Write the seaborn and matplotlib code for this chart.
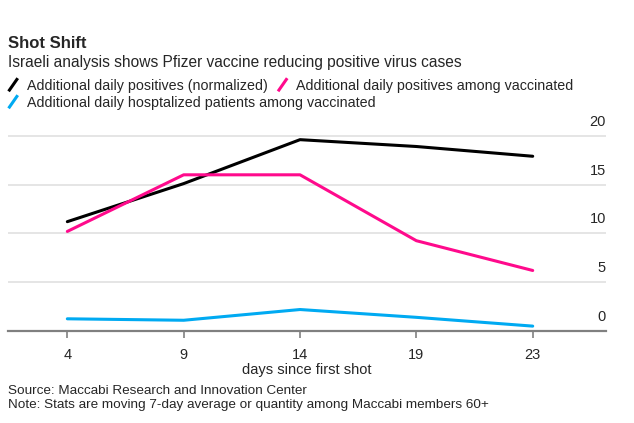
import pandas as pd
import matplotlib
matplotlib.use('Agg')
import matplotlib.pyplot as plt
import matplotlib.transforms as mtransforms
from matplotlib.lines import Line2D
from matplotlib.legend_handler import HandlerBase
import seaborn as sns

# values
days = ['4', '9', '14', '19', '23']
positives = [11.2, 15.1, 19.6, 18.9, 17.9]
vacc_positives = [10.2, 16.0, 16.0, 9.25, 6.2]
vacc_hosp = [1.25, 1.1, 2.2, 1.4, 0.5]
series_labels = ['Additional daily positives (normalized)',
                 'Additional daily positives among vaccinated',
                 'Additional daily hosptalized patients among vaccinated']
colors = ['#000000', '#ff0a8c', '#00aaf2']
yticks = [0, 5, 10, 15, 20]


class SlashHandler(HandlerBase):
    def create_artists(self, legend, orig_handle, xdescent, ydescent,
                       width, height, fontsize, trans):
        x0 = -xdescent
        y0 = -ydescent
        line = Line2D([x0 + 0.05 * width, x0 + 0.85 * width],
                      [y0 - 0.05 * height, y0 + 1.1 * height],
                      color=orig_handle.get_color(), lw=2.2,
                      solid_capstyle='butt', transform=trans)
        return [line]


sns.set_theme(style='white')
plt.rcParams['font.family'] = ['Liberation Sans', 'DejaVu Sans']

W, H = 634, 423
fig = plt.figure(figsize=(W / 100, H / 100), dpi=100)
ax = fig.add_axes([8 / W, 92 / H, 598 / W, 205 / H])

df = pd.DataFrame({
    'pos': list(range(len(days))) * 3,
    'value': positives + vacc_positives + vacc_hosp,
    'series': [s for s in series_labels for _ in days],
})
sns.lineplot(data=df, x='pos', y='value', hue='series',
             palette=dict(zip(series_labels, colors)), lw=2.2,
             ax=ax, legend=False)

ax.set_xlim(-0.51, 4.63)
ax.set_ylim(0, 21)
ax.set_xticks(range(len(days)), days, fontsize=10.5)
ax.set_yticks(yticks)
ax.set_yticklabels([])
ax.tick_params(axis='y', length=0)
ax.tick_params(axis='x', length=5, width=1.2, color='#808080', pad=7,
               bottom=True)
ax.yaxis.grid(True, color='#e0e0e0', lw=1.2)
ax.set_axisbelow(True)
for s in ['left', 'right', 'top']:
    ax.spines[s].set_visible(False)
ax.spines['bottom'].set_color('#808080')
ax.spines['bottom'].set_linewidth(1.6)
ax.set_xlabel('days since first shot', fontsize=10.5, labelpad=1)
ax.set_ylabel('')

lab_trans = mtransforms.offset_copy(ax.get_yaxis_transform(), fig=fig,
                                    x=0, y=14, units='dots')
for v in yticks:
    ax.text(1.0, v, str(v), transform=lab_trans, ha='right', va='center',
            fontsize=10.5)

fig.text(8 / W, 1 - 43 / H, 'Shot Shift', fontweight='bold', fontsize=12,
         va='center')
fig.text(8 / W, 1 - 62 / H,
         'Israeli analysis shows Pfizer vaccine reducing positive virus cases',
         fontsize=11.2, va='center')

handles = [Line2D([], [], color=c) for c in colors]
leg_kw = dict(loc='center left', frameon=False, fontsize=10.3,
              handlelength=0.8, handleheight=0.85, handletextpad=0.5,
              columnspacing=0.7, borderpad=0, borderaxespad=0,
              handler_map={Line2D: SlashHandler()})
fig.legend(handles[:2], series_labels[:2], ncol=2,
           bbox_to_anchor=(8 / W, 1 - 86 / H), **leg_kw)
fig.legend(handles[2:], series_labels[2:], ncol=1,
           bbox_to_anchor=(8 / W, 1 - 103 / H), **leg_kw)

fig.text(8 / W, 1 - 391 / H, 'Source: Maccabi Research and Innovation Center',
         fontsize=9.7, va='center')
fig.text(8 / W, 1 - 405 / H,
         'Note: Stats are moving 7-day average or quantity among Maccabi members 60+',
         fontsize=9.7, va='center')

fig.savefig('out.png', dpi=100)
